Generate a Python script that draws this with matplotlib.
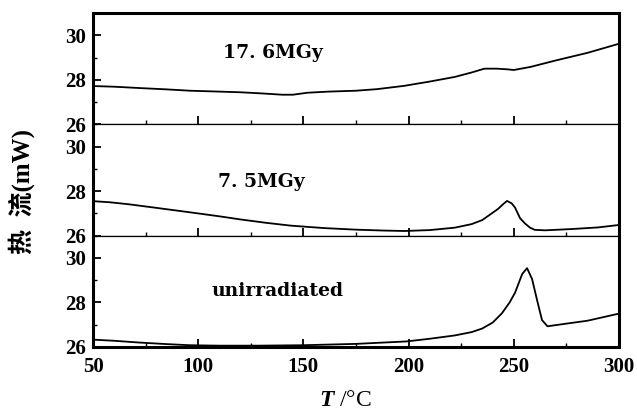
import matplotlib
matplotlib.use("Agg")
import matplotlib.pyplot as plt
from matplotlib.ticker import MultipleLocator

# ---- data ----
T_176 = [50, 60, 72, 85, 96, 110, 120, 130, 140, 145, 152, 162, 175, 185, 198, 210,
         222, 230, 236, 242, 247, 250, 258, 270, 285, 300]
Y_176 = [27.72, 27.69, 27.63, 27.57, 27.51, 27.47, 27.44, 27.39, 27.33, 27.33, 27.42,
         27.47, 27.51, 27.58, 27.73, 27.92, 28.13, 28.33, 28.50, 28.50, 28.47, 28.44,
         28.58, 28.87, 29.21, 29.62]

T_75 = [50, 58, 67, 80, 96, 110, 120, 132, 144, 160, 175, 188, 198, 210, 222, 230, 235,
        239.5, 242.5, 245, 246.8, 249, 250.6, 253, 255.3, 257.7, 260, 265, 278, 290, 300]
Y_75 = [27.55, 27.50, 27.41, 27.25, 27.05, 26.87, 26.73, 26.58, 26.45, 26.34, 26.27,
        26.23, 26.21, 26.25, 26.36, 26.52, 26.70, 27.00, 27.20, 27.42, 27.56, 27.45,
        27.26, 26.78, 26.55, 26.36, 26.26, 26.24, 26.30, 26.37, 26.48]

T_0 = [50, 60, 72, 85, 96, 110, 128, 150, 175, 199, 210, 222, 230, 235, 240, 244.4,
       248, 250.6, 254, 256.3, 258.7, 261, 263.4, 266, 275, 285, 300]
Y_0 = [26.33, 26.28, 26.20, 26.13, 26.08, 26.06, 26.06, 26.08, 26.14, 26.25, 26.37,
       26.52, 26.67, 26.83, 27.10, 27.52, 28.00, 28.44, 29.28, 29.54, 29.05, 28.13,
       27.21, 26.93, 27.05, 27.18, 27.50]

labels = ["17. 6MGy", "7. 5MGy", "unirradiated"]
x_ticks = [50, 100, 150, 200, 250, 300]
y_ticks = [26, 28, 30]

series = [(T_176, Y_176), (T_75, Y_75), (T_0, Y_0)]
label_pos = [(0.247, 0.64), (0.238, 0.48), (0.226, 0.50)]

plt.rcParams['mathtext.fontset'] = 'custom'
plt.rcParams['mathtext.it'] = 'Liberation Serif:italic:bold'
plt.rcParams['mathtext.rm'] = 'Liberation Serif'

fig = plt.figure(figsize=(6.37, 4.19), dpi=100)
gs = fig.add_gridspec(3, 1, left=93/637, right=619/637, top=1-13/419, bottom=1-347/419,
                      hspace=0)
axes = [fig.add_subplot(gs[i]) for i in range(3)]

for i, ax in enumerate(axes):
    T, Y = series[i]
    ax.plot(T, Y, color='black', lw=1.3)
    ax.set_xlim(50, 300)
    ax.set_ylim(26, 31)
    ax.set_xticks(x_ticks)
    ax.xaxis.set_minor_locator(MultipleLocator(25))
    ax.set_yticks(y_ticks)
    ax.yaxis.set_minor_locator(MultipleLocator(1))
    ax.tick_params(axis='both', which='both', direction='in', top=False, right=False,
                   color='black')
    ax.tick_params(axis='both', which='major', length=6, width=1.3)
    ax.tick_params(axis='both', which='minor', length=3, width=1.0)
    ax.tick_params(axis='y', pad=5)
    ax.tick_params(axis='x', pad=7)
    for lab in ax.get_yticklabels() + ax.get_xticklabels():
        lab.set_fontfamily('Liberation Serif')
        lab.set_fontweight('bold')
        lab.set_fontsize(15)
    if i < 2:
        ax.tick_params(labelbottom=False)
    for s in ['left', 'right']:
        ax.spines[s].set_linewidth(2.2)
    ax.spines['top'].set_linewidth(2.2 if i == 0 else 0.9)
    ax.spines['bottom'].set_linewidth(2.2 if i == 2 else 0.9)
    ax.text(label_pos[i][0], label_pos[i][1], labels[i], transform=ax.transAxes,
            ha='left', va='center', fontsize=13.5, fontweight='bold', family='DejaVu Serif')

fig.text(22/637, 1-191/419, '热\u2002流(mW)', rotation=90, ha='center', va='center',
         fontsize=18, fontweight='bold', family=['Liberation Serif', 'Noto Sans CJK SC'])
fig.text(345/637, 1-400/419, r'$T$ /°C', ha='center', va='center', fontsize=17,
         family=['Liberation Serif'])

fig.savefig('out.png', dpi=100)
